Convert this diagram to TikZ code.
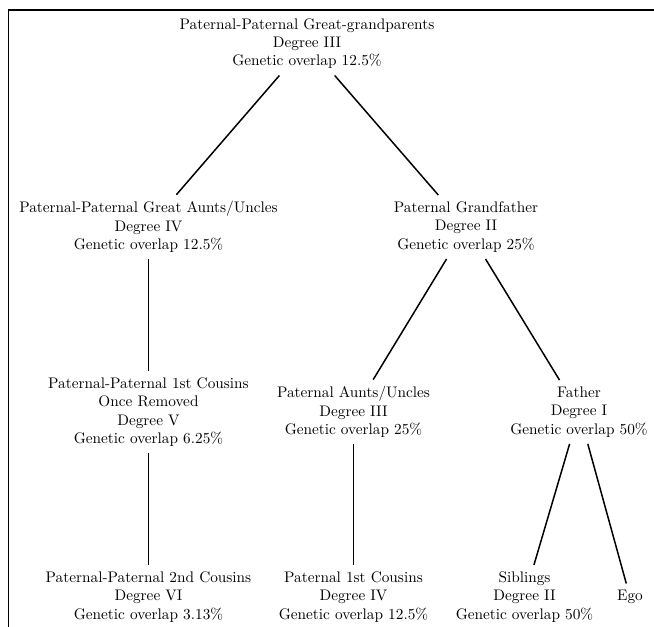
\documentclass[tikz,border=0pt]{standalone}
\usepackage{fontspec}
\newfontfamily\treefont{lmroman10-regular.otf}
\usetikzlibrary{positioning}
\tikzset{
  person/.style={align=center, inner sep=6.5pt, font=\treefont\fontsize{15.3}{18.4}\selectfont},
  link/.style={line width=1.5pt},
}

\begin{document}
\begin{tikzpicture}[x=1pt, y=-1pt, on grid]
            \useasboundingbox (0,0) rectangle (654,627);
            \draw[line width=1.6pt] (654,10) -- (8.5,10) -- (8.5,627);
            \node[person] (gp) at (307,43.5) {Paternal-Paternal Great-grandparents\\Degree III\\Genetic overlap 12.5\%};
            \node[person, below left=183.5pt and 158.5pt of gp] (gau) {Paternal-Paternal Great Aunts/Uncles\\Degree IV\\Genetic overlap 12.5\%};
            \node[person, below right=183.5pt and 159pt of gp] (gf) {Paternal Grandfather\\Degree II\\Genetic overlap 25\%};
            \node[person, below=185pt of gau] (cor) {Paternal-Paternal 1st Cousins\\Once Removed\\Degree V\\Genetic overlap 6.25\%};
            \node[person, below left=185pt and 112.5pt of gf] (au) {Paternal Aunts/Uncles\\Degree III\\Genetic overlap 25\%};
            \node[person, below right=185pt and 113pt of gf] (fa) {Father\\Degree I\\Genetic overlap 50\%};
            \node[person, below=185pt of cor] (pc2) {Paternal-Paternal 2nd Cousins\\Degree VI\\Genetic overlap 3.13\%};
            \node[person, below=185pt of au] (pc1) {Paternal 1st Cousins\\Degree IV\\Genetic overlap 12.5\%};
            \node[person, below left=185pt and 54.5pt of fa] (sib) {Siblings\\Degree II\\Genetic overlap 50\%};
            \node[person, below right=185pt and 51pt of fa] (ego) {Ego};
            \draw[link] (gp) -- (gau);
            \draw[link] (gp) -- (gf);
            \draw[link] (gau) -- (cor);
            \draw[link] (cor) -- (pc2);
            \draw[link] (gf) -- (au);
            \draw[link] (gf) -- (fa);
            \draw[link] (au) -- (pc1);
            \draw[link] (fa) -- (sib);
            \draw[link] (fa) -- (ego);
        \end{tikzpicture}
\end{document}
